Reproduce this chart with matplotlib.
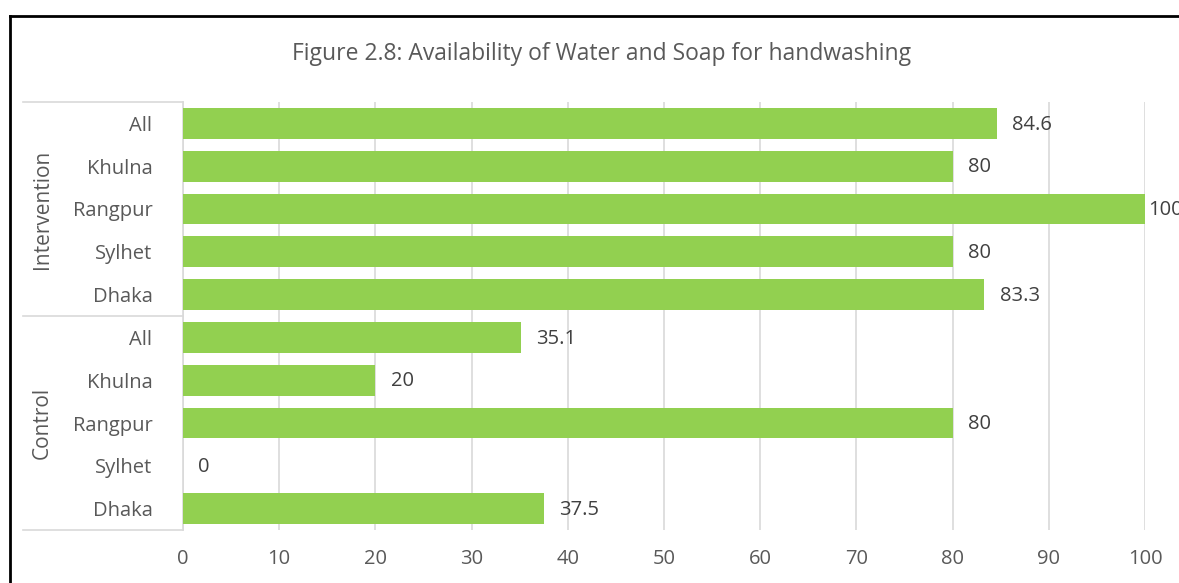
import matplotlib.pyplot as plt
from matplotlib.lines import Line2D

# data, top to bottom
groups = ['Intervention', 'Control']
districts = ['All', 'Khulna', 'Rangpur', 'Sylhet', 'Dhaka']
values = [84.6, 80, 100, 80, 83.3,   # Intervention
          35.1, 20, 80, 0, 37.5]     # Control
labels = ['84.6', '80', '100', '80', '83.3', '35.1', '20', '80', '0', '37.5']
xticks = [0, 10, 20, 30, 40, 50, 60, 70, 80, 90, 100]

plt.rcParams['font.family'] = ['Open Sans', 'DejaVu Sans']
txt = '#404040'
grid = '#d9d9d9'

fig = plt.figure(figsize=(11.79, 5.83), dpi=100)
ax = fig.add_axes([183 / 1179, 1 - 530 / 583, (1145 - 183) / 1179, (530 - 102) / 583])

n = len(values)
ypos = list(range(n))
ax.barh(ypos, values, height=0.72, color='#92d050', zorder=3)
ax.set_ylim(n - 0.5, -0.5)
ax.set_xlim(0, 100)

ax.set_xticks(xticks)
ax.set_xticklabels([str(t) for t in xticks], fontsize=14.5, color='#595959')
ax.tick_params(axis='x', length=0, pad=14)
ax.set_yticks(ypos)
ax.set_yticklabels(districts * 2, fontsize=14.5, color='#595959')
ax.tick_params(axis='y', length=0, pad=22)

ax.grid(axis='x', color=grid, linewidth=1.2, zorder=0)
for s in ['top', 'right', 'bottom']:
    ax.spines[s].set_visible(False)
ax.spines['left'].set_color(grid)
ax.spines['left'].set_linewidth(1.2)

# value labels (the one at the end of the axis sits right against the bar)
for y, v, lab in zip(ypos, values, labels):
    ax.text(min(v + 1.6, 100.3), y + 0.03, lab, va='center', ha='left', fontsize=14.5,
            color=txt, clip_on=False)

# group brackets on the left
H = 583
for yy in [102, 316, 530]:
    fig.add_artist(Line2D([23 / 1179, 183 / 1179], [1 - yy / H, 1 - yy / H],
                          color=grid, linewidth=1.2))
for g, yc in zip(groups, [209, 423]):
    fig.text(42 / 1179, 1 - yc / H, g, rotation=90, ha='center', va='center',
             fontsize=15, color='#595959')

fig.text(602 / 1179, 1 - 54 / H, 'Figure 2.8: Availability of Water and Soap for handwashing',
         ha='center', va='center', fontsize=16.5, color='#595959')

# chart border (left and top edges visible)
fig.add_artist(Line2D([10 / 1179, 10 / 1179], [0, 1 - 16 / H], color='black', linewidth=2))
fig.add_artist(Line2D([10 / 1179, 1], [1 - 16 / H, 1 - 16 / H], color='black', linewidth=2))

fig.savefig('out.png', dpi=100)
